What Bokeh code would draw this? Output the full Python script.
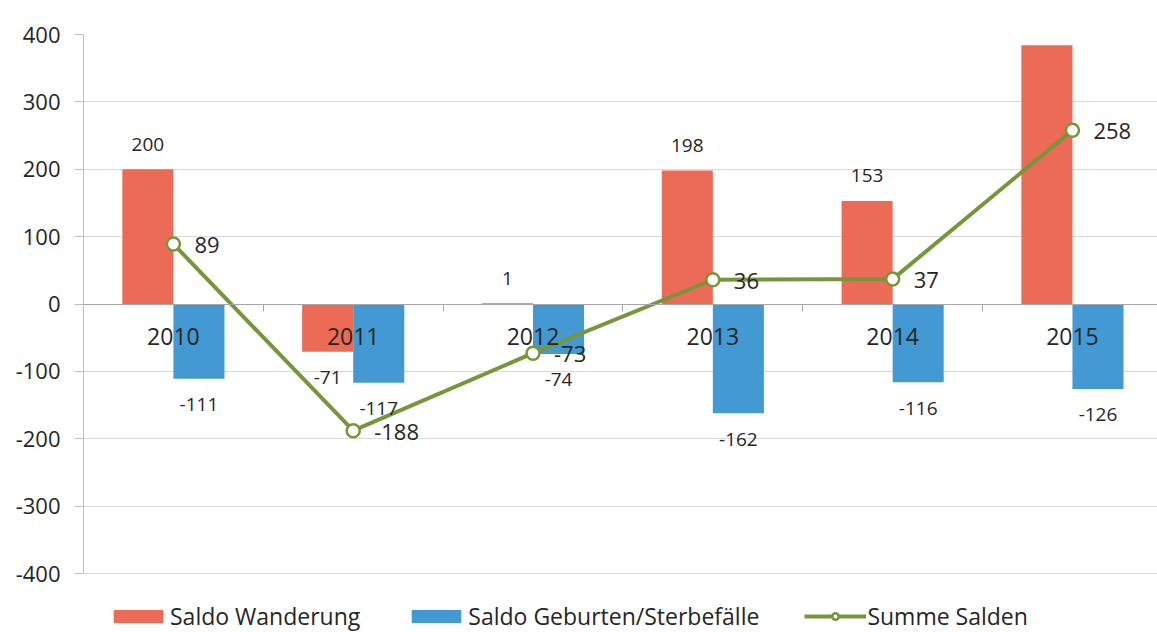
from bokeh.plotting import figure
from bokeh.models import ColumnDataSource, FixedTicker, Legend, LegendItem, Range1d
from bokeh.core.properties import value
from bokeh.transform import dodge
from bokeh.embed import file_html
from bokeh.resources import INLINE

years = ["2010", "2011", "2012", "2013", "2014", "2015"]
saldo_wanderung = [200, -71, 1, 198, 153, 384]
saldo_geburten = [-111, -117, -74, -162, -116, -126]
summe_salden = [89, -188, -73, 36, 37, 258]
y_ticks = [-400, -300, -200, -100, 0, 100, 200, 300, 400]

RED = "#EB6B57"
BLUE = "#4399D2"
GREEN = "#77963A"
TXT = "#262626"
FONT = "Open Sans"

xs = list(range(len(years)))
src = ColumnDataSource(dict(
    x=xs,
    w=saldo_wanderung,
    g=saldo_geburten,
    s=summe_salden,
    w_lbl=[str(v) for v in saldo_wanderung],
    g_lbl=[str(v) for v in saldo_geburten],
    s_lbl=[str(v) for v in summe_salden],
    w_off=[-25 if v >= 0 else 26 for v in saldo_wanderung],
    g_off=[-25 if v >= 0 else 26 for v in saldo_geburten],
))

p = figure(width=1157, height=632,
           x_range=Range1d(-0.5, 5.473),
           y_range=Range1d(-487.5, 400),
           output_backend="svg", toolbar_location=None,
           min_border_left=83, min_border_right=0,
           min_border_top=34, min_border_bottom=0)

BW = 0.284
OFF = 0.142
r_red = p.vbar(x=dodge("x", -OFF), top="w", bottom=0, width=BW, source=src,
               fill_color=RED, line_color=None)
r_blue = p.vbar(x=dodge("x", OFF), top="g", bottom=0, width=BW, source=src,
                fill_color=BLUE, line_color=None)
r_line = p.line(x="x", y="s", source=src, line_color=GREEN, line_width=4)
r_mark = p.scatter(x="x", y="s", source=src, size=13, marker="circle",
                   fill_color="white", line_color=GREEN, line_width=2.5)

p.text(x=dodge("x", -OFF), y="w", text="w_lbl", y_offset="w_off", source=src,
       text_align="center", text_baseline="middle", text_font=value(FONT),
       text_font_size="19px", text_color=TXT)
p.text(x=dodge("x", OFF), y="g", text="g_lbl", y_offset="g_off", source=src,
       text_align="center", text_baseline="middle", text_font=value(FONT),
       text_font_size="19px", text_color=TXT)
p.text(x="x", y="s", text="s_lbl", x_offset=21, y_offset=1, source=src,
       text_align="left", text_baseline="middle", text_font=value(FONT),
       text_font_size="22px", text_color=TXT)

# y axis
p.yaxis.ticker = FixedTicker(ticks=y_ticks)
p.yaxis.major_label_overrides = {t: str(t) for t in y_ticks}
p.yaxis.bounds = (y_ticks[0], y_ticks[-1])
p.yaxis.axis_line_color = "#BFBFBF"
p.yaxis.major_tick_line_color = "#BFBFBF"
p.yaxis.major_tick_out = 9
p.yaxis.major_tick_in = 0
p.yaxis.minor_tick_line_color = None
p.yaxis.major_label_text_font = FONT
p.yaxis.major_label_text_font_size = "22px"
p.yaxis.major_label_text_color = TXT
p.yaxis.major_label_standoff = 14

# x axis at zero
p.xaxis.fixed_location = 0
p.xaxis.ticker = FixedTicker(ticks=xs, minor_ticks=[i - 0.5 for i in range(len(years) + 1)])
p.xaxis.major_label_overrides = {i: y for i, y in zip(xs, years)}
p.xaxis.major_tick_out = 0
p.xaxis.major_tick_in = 0
p.xaxis.minor_tick_out = 7
p.xaxis.minor_tick_in = 0
p.xaxis.minor_tick_line_color = "#A6A6A6"
p.xaxis.axis_line_color = "#A6A6A6"
p.xaxis.major_label_text_font = FONT
p.xaxis.major_label_text_font_size = "23px"
p.xaxis.major_label_text_color = TXT
p.xaxis.major_label_standoff = 17

p.xgrid.visible = False
p.ygrid.ticker = FixedTicker(ticks=y_ticks)
p.ygrid.grid_line_color = "#D9D9D9"
p.outline_line_color = None

legend = Legend(items=[
    LegendItem(label="Saldo Wanderung", renderers=[r_red]),
    LegendItem(label="Saldo Geburten/Sterbefälle", renderers=[r_blue]),
    LegendItem(label="Summe Salden", renderers=[r_line, r_mark]),
], orientation="horizontal", location=(24, 0),
    glyph_width=62, glyph_height=16, spacing=45, label_standoff=1,
    label_text_font=FONT, label_text_font_size="23px", label_text_color=TXT,
    border_line_color=None, background_fill_alpha=0, padding=0, margin=0)
p.add_layout(legend, "center")

open("out.html", "w").write(file_html(p, INLINE))
